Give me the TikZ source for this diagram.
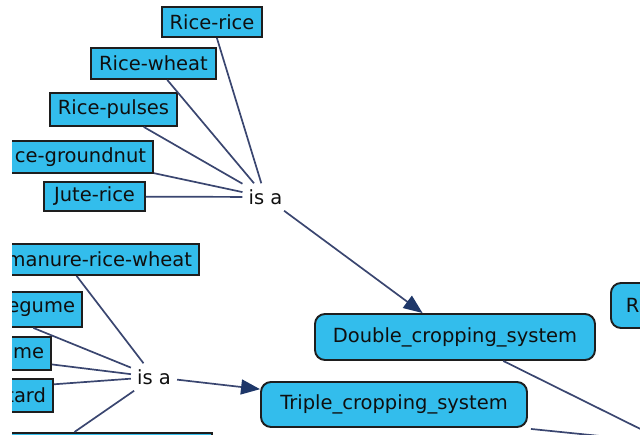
\documentclass[tikz,border=0pt]{standalone}
\usepackage{fontspec}
\setmainfont{DejaVu Sans}
\usetikzlibrary{arrows.meta}
\definecolor{boxblue}{RGB}{51,189,236}
\definecolor{edgegray}{RGB}{30,30,30}
\definecolor{linenavy}{RGB}{58,70,112}
\definecolor{tipnavy}{RGB}{30,55,105}
\definecolor{textdark}{RGB}{15,15,15}
\begin{document}
\begin{tikzpicture}[x=1pt,y=-1pt,
  lbl/.style={font=\fontsize{19.5}{23}\selectfont, text=textdark},
  cbox/.style={lbl, draw=edgegray, line width=1.9pt, fill=boxblue, inner xsep=0pt, inner ysep=0pt},
  cutbox/.style={cbox, align=right, inner xsep=7pt},
  rbox/.style={cbox, rounded corners=10pt},
  link/.style={lbl, inner sep=6pt},
  conn/.style={draw=linenavy, line width=1.7pt},
  arr/.style={conn, -{Triangle[length=19pt,width=15pt,color=tipnavy]}}
]
\useasboundingbox (0,0) rectangle (640,434);
\begin{scope}
\clip (12,0) rectangle (640,434);
% upper group
\node[cbox, minimum width=100pt, minimum height=30pt] (rr) at (212,22) {Rice-rice};
\node[cbox, minimum width=125pt, minimum height=31pt] (rw) at (153.5,63.5) {Rice-wheat};
\node[cbox, minimum width=127pt, minimum height=33pt] (rp) at (113.5,109.5) {Rice-pulses};
\node[cutbox, anchor=east, text width=136pt, minimum height=32pt] (rg) at (154,157) {ce-groundnut};
\node[cbox, minimum width=101pt, minimum height=29pt] (jr) at (94.5,196.5) {Jute-rice};
\node[link] (isa1) at (265.5,197) {is a};
% lower group
\node[cutbox, anchor=east, text width=256pt, minimum height=31pt] (gm) at (200,259.5) {manure-rice-wheat};
\node[cutbox, anchor=east, text width=174pt, minimum height=35pt] (lg) at (83,309.5) {egume};
\node[cutbox, anchor=east, text width=162pt, minimum height=33pt] (um) at (52,353.5) {ume};
\node[cutbox, anchor=east, text width=294pt, minimum height=33pt] (mt) at (54,395.5) {tard};
\node[cbox, anchor=north east, minimum width=330pt, minimum height=36pt] (bt) at (213,432) {};
\node[link] (isa2) at (154,377) {is a};
% concepts
\node[rbox, minimum width=280pt, minimum height=46pt] (dcs) at (455,337) {Double\_cropping\_system};
\node[rbox, minimum width=266pt, minimum height=45pt] (tcs) at (394,404.5) {Triple\_cropping\_system};
\node[rbox, anchor=west, text width=45pt, align=left, inner xsep=15pt, minimum height=45pt] (rx) at (610,305.5) {R};
% connectors
\foreach \n in {rr,rw,rp,rg,jr} \draw[conn] (\n) -- (isa1);
\foreach \n in {gm,lg,um,mt,bt} \draw[conn] (\n) -- (isa2);
\draw[arr] (isa1) -- (dcs);
\draw[arr] (isa2) -- (tcs);
\coordinate (offA) at (713,465);
\coordinate (offB) at (718,448);
\draw[conn] (dcs) -- (offA);
\draw[conn] ([shift={(3,1)}]tcs.south east) -- (offB);
\end{scope}
\end{tikzpicture}
\end{document}
